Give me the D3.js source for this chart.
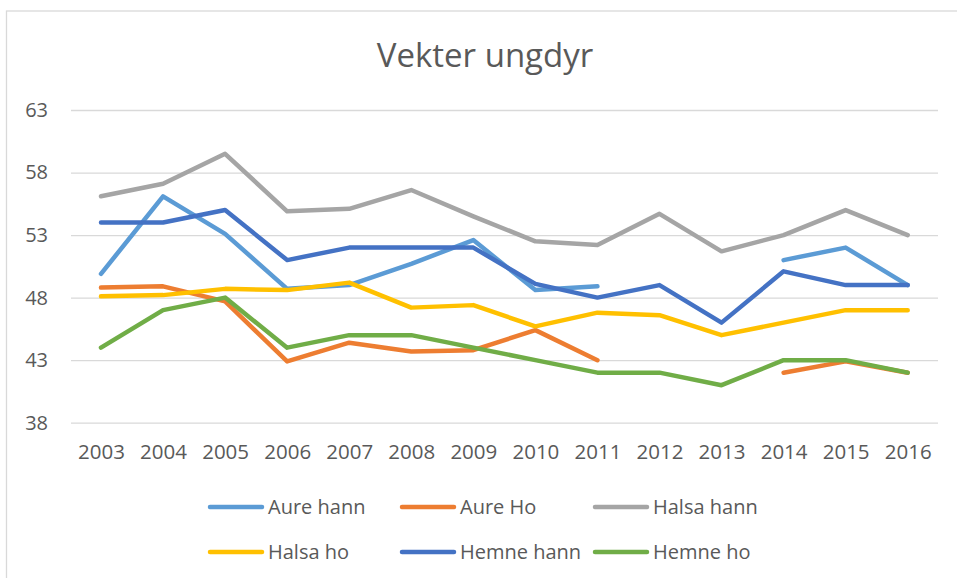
<!DOCTYPE html>
<html>
<head>
<meta charset="utf-8">
<script src="https://cdn.jsdelivr.net/npm/d3@7"></script>
<style>
  body { margin: 0; background: #fff; }
  text { font-family: "Open Sans", sans-serif; fill: #595959; }
</style>
</head>
<body>
<svg width="957" height="578"></svg>
<script>
"use strict";

// years on the x axis
const years = ["2003", "2004", "2005", "2006", "2007", "2008", "2009",
               "2010", "2011", "2012", "2013", "2014", "2015", "2016"];
const yTicks = [38, 43, 48, 53, 58, 63];
const seriesNames = ["Aure hann", "Aure Ho", "Halsa hann", "Halsa ho", "Hemne hann", "Hemne ho"];
const seriesColors = ["#5B9BD5", "#ED7D31", "#A5A5A5", "#FFC000", "#4472C4", "#70AD47"];

// null = no value that year (gap in the line)
const aureHann  = [49.9, 56.1, 53.1, 48.7, 49.0, 50.7, 52.6, 48.6, 48.9, null, null, 51.0, 52.0, 49.0];
const aureHo    = [48.8, 48.9, 47.7, 42.9, 44.4, 43.7, 43.8, 45.4, 43.0, null, null, 42.0, 42.9, 42.0];
const halsaHann = [56.1, 57.1, 59.5, 54.9, 55.1, 56.6, 54.5, 52.5, 52.2, 54.7, 51.7, 53.0, 55.0, 53.0];
const halsaHo   = [48.1, 48.2, 48.7, 48.6, 49.2, 47.2, 47.4, 45.7, 46.8, 46.6, 45.0, 46.0, 47.0, 47.0];
const hemneHann = [54.0, 54.0, 55.0, 51.0, 52.0, 52.0, 52.0, 49.1, 48.0, 49.0, 46.0, 50.1, 49.0, 49.0];
const hemneHo   = [44.0, 47.0, 48.0, 44.0, 45.0, 45.0, 44.0, 43.0, 42.0, 42.0, 41.0, 43.0, 43.0, 42.0];

const seriesValues = [aureHann, aureHo, halsaHann, halsaHo, hemneHann, hemneHo];

const svg = d3.select("svg");

// chart frame, runs off the right and bottom of the picture
svg.append("rect")
    .attr("x", 6.5).attr("y", 11)
    .attr("width", 1000).attr("height", 600)
    .attr("fill", "none")
    .attr("stroke", "#d9d9d9")
    .attr("stroke-width", 1.3);

svg.append("text")
    .attr("x", 485).attr("y", 67)
    .attr("text-anchor", "middle")
    .style("font-size", "33px")
    .text("Vekter ungdyr");

const x = d3.scalePoint()
    .domain(years)
    .range([101, 907.7]);

const y = d3.scaleLinear()
    .domain([38, 63])
    .range([422.7, 110]);

// gridlines + y labels
const yAxis = svg.append("g")
    .attr("transform", "translate(71,0)")
    .call(d3.axisLeft(y).tickValues(yTicks).tickSize(-867).tickPadding(23).tickFormat(d3.format("d")));
yAxis.select(".domain").remove();
yAxis.selectAll(".tick line").attr("stroke", "#d9d9d9").attr("stroke-width", 1.3);
yAxis.selectAll(".tick text")
    .attr("fill", "#595959")
    .style("font-size", "20px")
    .style("font-family", "Open Sans, sans-serif");

const xAxis = svg.append("g")
    .attr("transform", "translate(0,422.7)")
    .call(d3.axisBottom(x).tickSize(0).tickPadding(22));
xAxis.select(".domain").remove();
xAxis.selectAll(".tick text")
    .attr("fill", "#595959")
    .style("font-size", "20.5px")
    .style("font-family", "Open Sans, sans-serif");

const line = d3.line()
    .defined(d => d != null)
    .x((d, i) => x(years[i]))
    .y(d => y(d));

svg.append("g").selectAll("path")
    .data(seriesValues)
    .join("path")
        .attr("d", d => line(d))
        .attr("fill", "none")
        .attr("stroke", (d, i) => seriesColors[i])
        .attr("stroke-width", 4.5)
        .attr("stroke-linejoin", "round")
        .attr("stroke-linecap", "round");

// legend, 3 per row
const legendCols = [208, 400, 593];
const legendRows = [507, 552];
const legend = svg.append("g").selectAll("g")
    .data(seriesNames)
    .join("g")
        .attr("transform", (d, i) => `translate(${legendCols[i % 3]},${legendRows[Math.floor(i / 3)]})`);
legend.append("line")
    .attr("x1", 2).attr("x2", 54)
    .attr("stroke", (d, i) => seriesColors[i])
    .attr("stroke-width", 4.5)
    .attr("stroke-linecap", "round");
legend.append("text")
    .attr("x", 60).attr("y", 7)
    .style("font-size", "20px")
    .text(d => d);
</script>
</body>
</html>
